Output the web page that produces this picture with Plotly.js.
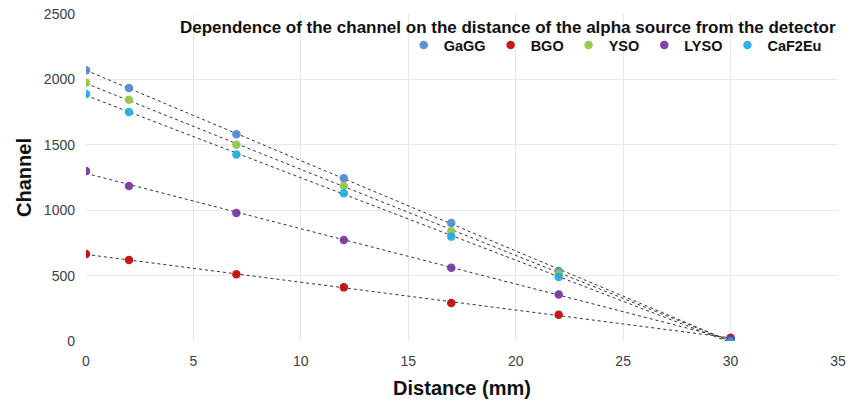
<!DOCTYPE html>
<html><head><meta charset="utf-8">
<script src="https://cdn.plot.ly/plotly-3.0.1.min.js"></script>
<style>body{margin:0;background:#fff}#c{width:856px;height:406px}</style>
</head><body><div id="c"></div>
<script>
const distance = [0, 2, 7, 12, 17, 22, 30];
const seriesNames = ["GaGG", "BGO", "YSO", "LYSO", "CaF2Eu"];
const GaGG   = [2070, 1935, 1580, 1245, 902, 535, 5];
const BGO    = [665, 620, 510, 410, 290, 200, 25];
const YSO    = [1975, 1845, 1500, 1185, 840, 515, 10];
const LYSO   = [1300, 1185, 978, 772, 560, 355, 15];
const CaF2Eu = [1888, 1750, 1425, 1130, 798, 490, -5];
const colors = ["#4a86d0", "#c00000", "#8cc63f", "#7030a0", "#1ca8e0"];
const values = [GaGG, BGO, YSO, LYSO, CaF2Eu];

function fit(x, y) {
  const n = x.length;
  const mx = x.reduce((a,b)=>a+b,0)/n, my = y.reduce((a,b)=>a+b,0)/n;
  let sxy=0, sxx=0;
  for (let i=0;i<n;i++){sxy+=(x[i]-mx)*(y[i]-my); sxx+=(x[i]-mx)**2;}
  const m = sxy/sxx; return [m, my - m*mx];
}
const traces = [];
values.forEach((v,i)=>{
  const [m,b] = fit(distance, v);
  const x0 = distance[0], x1 = distance[distance.length-1];
  traces.push({x:[x0,x1], y:[m*x0+b, m*x1+b], mode:'lines', showlegend:false,
    hoverinfo:'skip', line:{color:'#333', width:1, dash:'dot'}});
});
values.forEach((v,i)=>{
  traces.push({x:distance, y:v, mode:'markers', name:'<b>'+seriesNames[i]+'</b>',
    marker:{color:colors[i], size:8.5, opacity:0.9}});
});
const layout = {
  width:856, height:406,
  margin:{l:86, r:18, t:14, b:65},
  paper_bgcolor:'#fff', plot_bgcolor:'#fff',
  font:{family:'Liberation Sans, Arial, sans-serif', color:'#404040'},
  xaxis:{range:[0,35], dtick:5, showgrid:true, gridcolor:'#e8e8e8', zeroline:false,
    showline:false, ticks:'', ticklabelstandoff:10, tickfont:{size:14, color:'#404040'},
    title:{text:'<b>Distance (mm)</b>', font:{size:20, color:'#111'}, standoff:12}},
  yaxis:{range:[0,2500], dtick:500, showgrid:true, gridcolor:'#e8e8e8', zeroline:false,
    showline:false, ticks:'', ticklabelstandoff:10, tickfont:{size:14, color:'#404040'},
    title:{text:'<b>Channel</b>', font:{size:20, color:'#111'}, standoff:6}},
  showlegend:true,
  legend:{orientation:'h', x:0.985, xanchor:'right', y:0.905, yanchor:'middle',
    font:{size:14.5, color:'#111'},
    itemwidth:30, tracegroupgap:0, bgcolor:'rgba(0,0,0,0)'},
  annotations:[{xref:'paper', yref:'paper', x:1, y:0.96, xanchor:'right', yanchor:'middle',
    showarrow:false, text:'<b>Dependence of the channel on the distance of the alpha source from the detector</b>',
    font:{size:17, color:'#111'}}]
};
Plotly.newPlot('c', traces, layout, {displayModeBar:false, staticPlot:true});
</script></body></html>
